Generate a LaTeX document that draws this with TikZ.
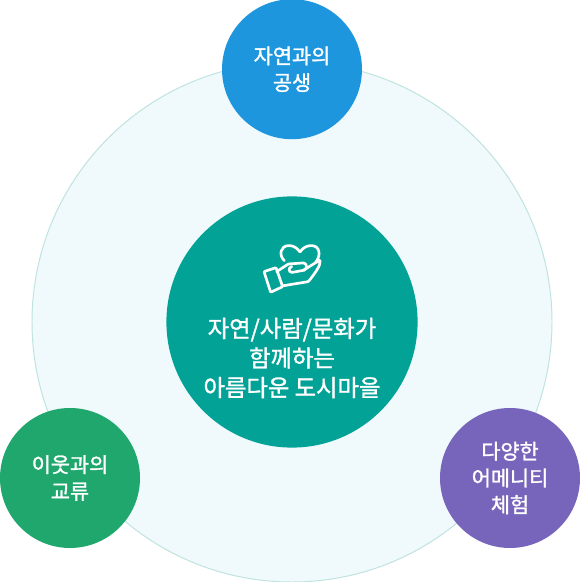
\documentclass[tikz,border=0pt]{standalone}
\usepackage{fontspec}
\setmainfont{Noto Sans CJK KR}[FakeBold=1.4]
\usepackage{xcolor}
\definecolor{ringfill}{HTML}{F0F9FB}
\definecolor{ringline}{HTML}{BFE3DF}
\definecolor{corecol}{HTML}{03A297}
\definecolor{bluecol}{HTML}{1E96DE}
\definecolor{greencol}{HTML}{1FA76E}
\definecolor{purplecol}{HTML}{7765BC}

\begin{document}
\begin{tikzpicture}[
  ring/.style={circle, draw=ringline, fill=ringfill, line width=0.7pt, minimum size=13cm, inner sep=0pt},
  core/.style={circle, fill=corecol, minimum size=6.28cm, inner sep=0pt},
  topic/.style={circle, minimum size=3.5cm, inner sep=0pt, align=center, text=white, font=\fontsize{14.8}{19}\selectfont},
  icon/.style={draw=white, line width=1.9pt, line join=round, line cap=round, rounded corners=0.6pt}
]
\useasboundingbox (0,0) rectangle (14.5,14.55);

% Circles
\node[ring] (ring) at (7.3,6.5) {};
\node[core] (core) at (7.3,6.5) {};
\node[topic, fill=bluecol] (nature) at (7.3,12.82) {자연과의\\공생};
\node[topic, fill=greencol] (neighbor) at (1.75,2.6) {이웃과의\\교류};
\node[topic, fill=purplecol] (amenity) at (12.75,2.6) {다양한\\어메니티\\체험};

% Center text
\node[align=center, text=white, font=\fontsize{16.6}{21}\selectfont] (title) at (7.3,5.6) {자연/사람/문화가\\함께하는\\아름다운 도시마을};

% Hand and heart
\begin{scope}[shift={(6,8.8)}, x=0.00833cm, y=-0.00833cm]
\draw[icon] (133,92) .. controls (115,75) and (122,47) .. (148,47) .. controls (162,47) and (175,58) .. (180,67) .. controls (187,55) and (200,47) .. (213,47) .. controls (238,47) and (245,75) .. (227,97);
\draw[icon] (72,125) -- (108,113) -- (128,170) -- (92,187) -- cycle;
\draw[icon] (110,125) -- (145,102) -- (188,99) .. controls (202,99) and (202,118) .. (190,121) -- (158,127) .. controls (146,127) and (144,113) .. (155,110);
\draw[icon] (190,121) -- (240,90) .. controls (243,105) and (225,130) .. (205,155) -- (125,168);
\end{scope}
\end{tikzpicture}
\end{document}
